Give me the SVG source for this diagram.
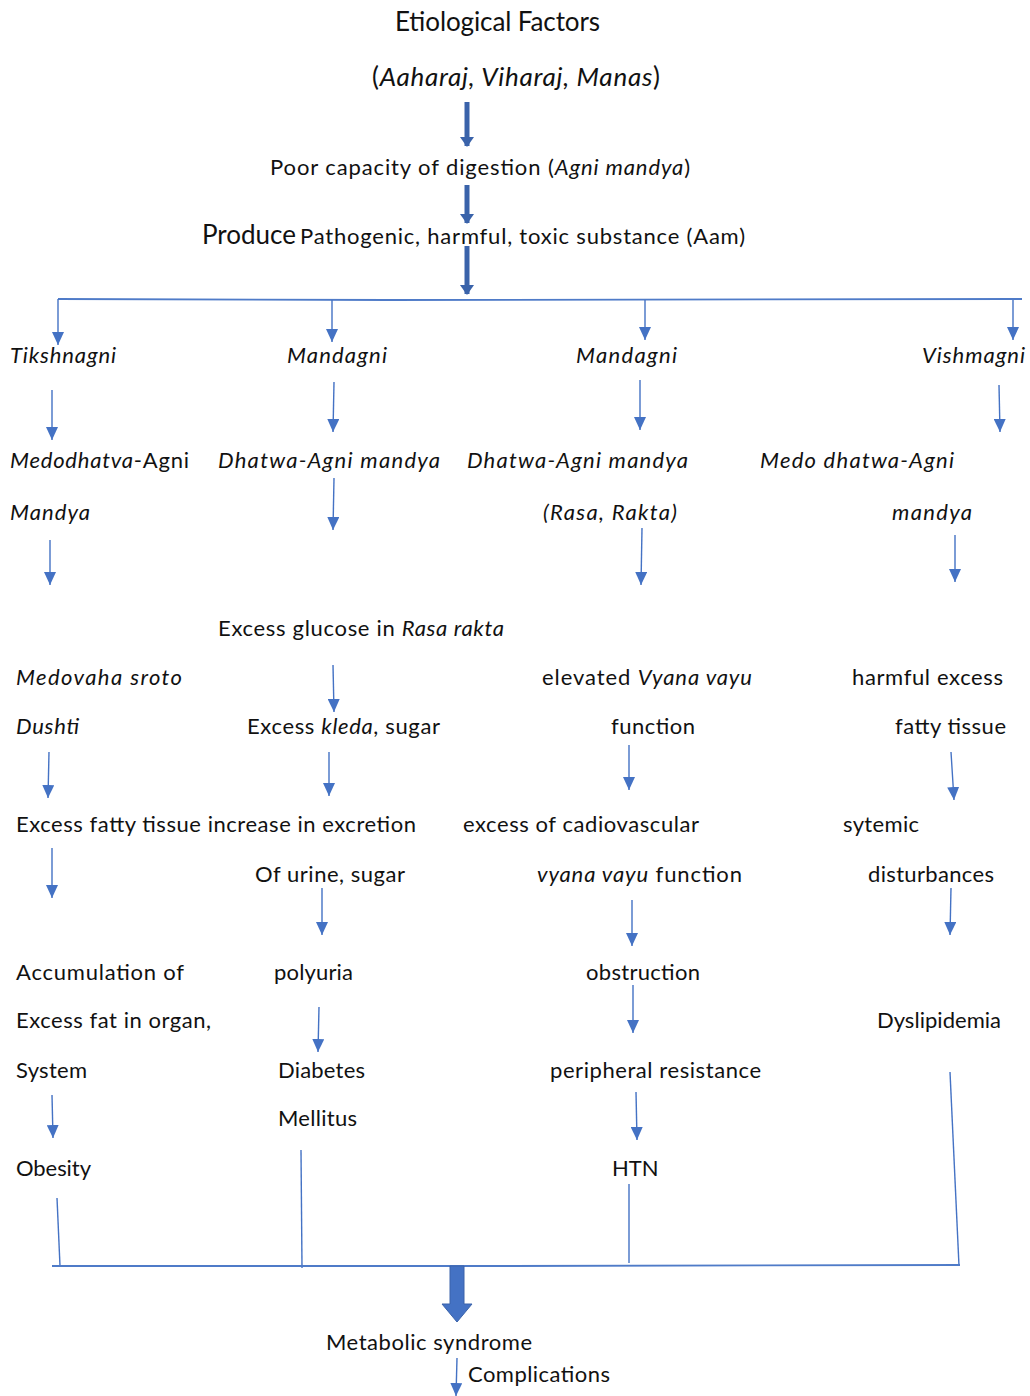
<svg xmlns="http://www.w3.org/2000/svg" width="1030" height="1396" viewBox="0 0 1030 1396">
<defs>
<marker id="ah" markerUnits="userSpaceOnUse" markerWidth="13" markerHeight="12" refX="13" refY="6" orient="auto" viewBox="0 0 13 12">
<path d="M0,0 L13,6 L0,12 Z" fill="#4472C4"/>
</marker>
<marker id="ahd" markerUnits="userSpaceOnUse" markerWidth="14" markerHeight="10" viewBox="0 0 14 10" refX="7" refY="9" orient="0">
<path d="M0,0 L14,0 L7,10 Z" fill="#3A63AA"/>
</marker>
<style>
text{font-family:Lato,"Liberation Sans",sans-serif;font-size:22px;fill:#111}
.i{font-style:italic}
.big{font-size:26px}
.thin{stroke:#4472C4;stroke-width:1.4;fill:none}
.arr{stroke:#4472C4;stroke-width:1.4;fill:none}
.thick{stroke:#3A63AA;stroke-width:5;fill:none}
.bar{stroke:#4F7BC8;stroke-width:1.8;fill:none}
</style>
</defs>
<rect width="1030" height="1396" fill="#fff"/>

<g id="connectors">
<line class="thick" x1="467" y1="102" x2="467" y2="146" marker-end="url(#ahd)"/>
<line class="thick" x1="467" y1="185" x2="467" y2="223" marker-end="url(#ahd)"/>
<line class="thick" x1="467" y1="246" x2="467" y2="294" marker-end="url(#ahd)"/>
<polyline class="bar" points="58,299 390,300 1022,299"/>
<path class="arr" d="M58,299 V345" marker-end="url(#ah)"/>
<path class="arr" d="M332,300 V342" marker-end="url(#ah)"/>
<path class="arr" d="M645,300 V340" marker-end="url(#ah)"/>
<path class="arr" d="M1013,300 V340" marker-end="url(#ah)"/>
<path class="arr" d="M52,390 V440" marker-end="url(#ah)"/>
<path class="arr" d="M334,382 L333,432" marker-end="url(#ah)"/>
<path class="arr" d="M640,380 V430" marker-end="url(#ah)"/>
<path class="arr" d="M999,385 L1000,432" marker-end="url(#ah)"/>
<path class="arr" d="M50,540 V585" marker-end="url(#ah)"/>
<path class="arr" d="M334,478 L333,530" marker-end="url(#ah)"/>
<path class="arr" d="M642,528 L641,585" marker-end="url(#ah)"/>
<path class="arr" d="M955,535 V582" marker-end="url(#ah)"/>
<path class="arr" d="M333,665 L334,712" marker-end="url(#ah)"/>
<path class="arr" d="M49,752 L48,798" marker-end="url(#ah)"/>
<path class="arr" d="M329,752 V796" marker-end="url(#ah)"/>
<path class="arr" d="M629,745 V790" marker-end="url(#ah)"/>
<path class="arr" d="M951,752 L954,800" marker-end="url(#ah)"/>
<path class="arr" d="M52,848 V898" marker-end="url(#ah)"/>
<path class="arr" d="M322,888 V935" marker-end="url(#ah)"/>
<path class="arr" d="M632,900 V946" marker-end="url(#ah)"/>
<path class="arr" d="M951,888 L950,935" marker-end="url(#ah)"/>
<path class="arr" d="M319,1007 L318,1052" marker-end="url(#ah)"/>
<path class="arr" d="M633,985 V1033" marker-end="url(#ah)"/>
<path class="arr" d="M52,1095 L53,1138" marker-end="url(#ah)"/>
<path class="arr" d="M636,1092 L637,1140" marker-end="url(#ah)"/>
<line class="thin" x1="57" y1="1198" x2="60" y2="1266"/>
<line class="thin" x1="301" y1="1150" x2="302" y2="1268"/>
<line class="thin" x1="629" y1="1184" x2="629" y2="1263"/>
<line class="thin" x1="950" y1="1072" x2="959" y2="1266"/>
<polyline class="bar" points="52,1266 500,1266 960,1265"/>
<path d="M450,1266 H464 V1304 H472 L457,1322 L442,1304 H450 Z" fill="#4472C4" stroke="#3A63AA" stroke-width="1"/>
<path class="arr" d="M457,1358 L456,1396" marker-end="url(#ah)"/>
</g>

<g id="n-etiology">
<text class="big" x="395" y="31" textLength="205">Etiological Factors</text>
<text class="big" x="372" y="86" textLength="288">(<tspan class="i">Aaharaj, Viharaj, Manas</tspan>)</text>
</g>
<g id="n-poor"><text x="270" y="175" textLength="420">Poor capacity of digestion (<tspan class="i">Agni  mandya</tspan>)</text></g>
<g id="n-aam"><text class="big" x="202" y="244" textLength="94">Produce</text><text x="300" y="244" textLength="445">Pathogenic, harmful, toxic substance  (Aam)</text></g>

<g id="n-tikshnagni"><text class="i" x="10" y="363" textLength="106">Tikshnagni</text></g>
<g id="n-mandagni1"><text class="i" x="287" y="363" textLength="100">Mandagni</text></g>
<g id="n-mandagni2"><text class="i" x="576" y="363" textLength="101">Mandagni</text></g>
<g id="n-vishmagni"><text class="i" x="922" y="363" textLength="103">Vishmagni</text></g>

<g id="n-medodhatva"><text x="10" y="468" textLength="179"><tspan class="i">Medodhatva</tspan>-Agni</text><text class="i" x="10" y="520" textLength="80">Mandya</text></g>
<g id="n-dhatwa1"><text class="i" x="218" y="468" textLength="222">Dhatwa-Agni  mandya</text></g>
<g id="n-dhatwa2"><text class="i" x="467" y="468" textLength="221">Dhatwa-Agni  mandya</text><text class="i" x="543" y="520" textLength="134">(Rasa,  Rakta)</text></g>
<g id="n-medo"><text class="i" x="760" y="468" textLength="194">Medo dhatwa-Agni</text><text class="i" x="892" y="520" textLength="80">mandya</text></g>

<g id="n-glucose"><text x="218" y="636" textLength="286">Excess glucose in <tspan class="i">Rasa rakta</tspan></text></g>
<g id="n-medovaha"><text class="i" x="16" y="685" textLength="166">Medovaha  sroto</text><text class="i" x="16" y="734" textLength="63">Dushti</text></g>
<g id="n-vyana"><text x="542" y="685" textLength="210">elevated <tspan class="i">Vyana vayu</tspan></text><text x="611" y="734" textLength="84">function</text></g>
<g id="n-harmful"><text x="852" y="685" textLength="151">harmful  excess</text><text x="895" y="734" textLength="111">fatty tissue</text></g>
<g id="n-kleda"><text x="247" y="734" textLength="193">Excess <tspan class="i">kleda</tspan>, sugar</text></g>

<g id="n-fatty"><text x="16" y="832" textLength="400">Excess fatty tissue  increase in excretion</text></g>
<g id="n-urine"><text x="255" y="882" textLength="150">Of urine,  sugar</text></g>
<g id="n-cardio"><text x="463" y="832" textLength="236">excess of cadiovascular</text><text x="537" y="882" textLength="205"><tspan class="i">vyana  vayu</tspan> function</text></g>
<g id="n-systemic"><text x="843" y="832" textLength="76">sytemic</text><text x="868" y="882" textLength="126">disturbances</text></g>

<g id="n-accum"><text x="16" y="980" textLength="168">Accumulation  of</text><text x="16" y="1028" textLength="195">Excess fat in organ,</text><text x="16" y="1078" textLength="71">System</text></g>
<g id="n-polyuria"><text x="274" y="980" textLength="79">polyuria</text></g>
<g id="n-obstruction"><text x="586" y="980" textLength="114">obstruction</text></g>
<g id="n-dyslipidemia"><text x="877" y="1028" textLength="124">Dyslipidemia</text></g>
<g id="n-diabetes"><text x="278" y="1078" textLength="87">Diabetes</text><text x="278" y="1126" textLength="79">Mellitus</text></g>
<g id="n-peripheral"><text x="550" y="1078" textLength="211">peripheral  resistance</text></g>
<g id="n-obesity"><text x="16" y="1176" textLength="75">Obesity</text></g>
<g id="n-htn"><text x="612" y="1176">HTN</text></g>
<g id="n-metabolic"><text x="326" y="1350" textLength="206">Metabolic syndrome</text></g>
<g id="n-complications"><text x="468" y="1382" textLength="142">Complications</text></g>
</svg>
